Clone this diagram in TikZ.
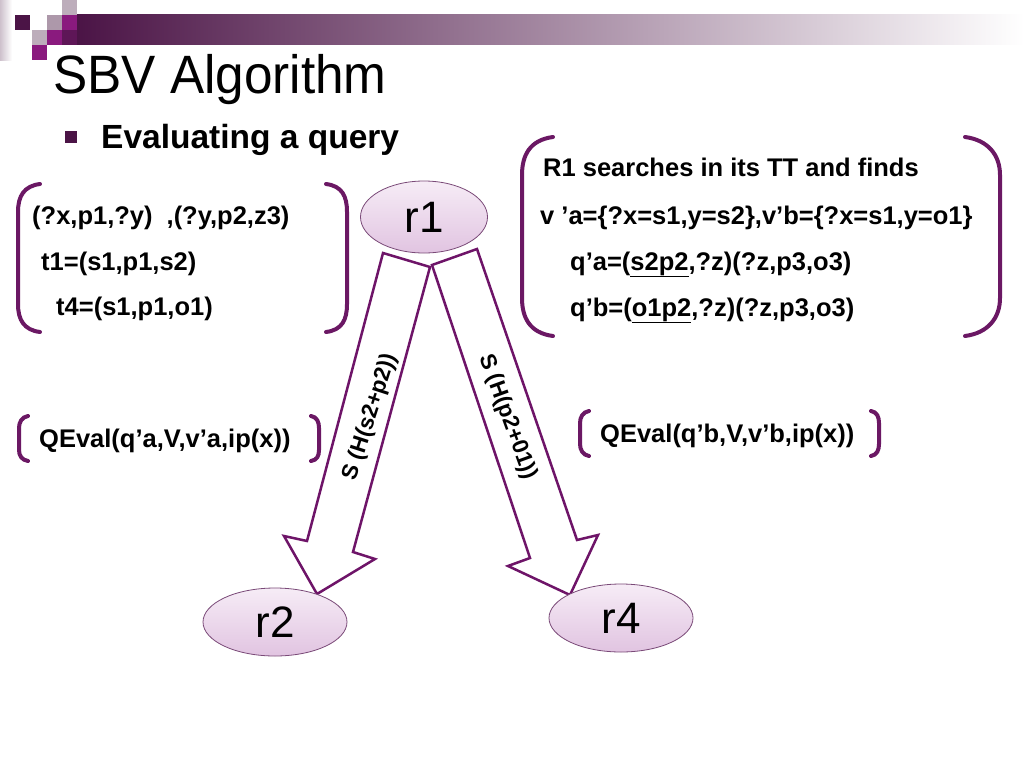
\documentclass[tikz,border=0pt]{standalone}
\usepackage{fontspec}
\setmainfont{Liberation Sans}
\newfontfamily\titlefont[FakeStretch=0.95]{Liberation Sans}
\usetikzlibrary{shapes.geometric}
\definecolor{dpurple}{HTML}{4B1446}
\definecolor{magentatwo}{HTML}{8A1A7E}
\definecolor{mauve}{HTML}{AD98AA}
\definecolor{bracketc}{HTML}{6B1864}
\definecolor{arrowc}{HTML}{6E1468}
\definecolor{elltop}{HTML}{F6ECF6}
\definecolor{ellbot}{HTML}{E1C4E1}
\definecolor{ellborder}{HTML}{7A4A78}
\tikzset{
  body/.style={font=\fontsize{25.5}{30}\selectfont\bfseries, anchor=base west, inner sep=0pt},
  peer/.style={ellipse, draw=ellborder, line width=0.8pt, top color=elltop, bottom color=ellbot,
    inner sep=0pt, minimum width=144pt, minimum height=68pt, font=\fontsize{44}{50}\selectfont},
  brk/.style={draw=bracketc, line width=4pt, line cap=round},
  blockarrow/.style={draw=arrowc, line width=2.5pt, fill=white, line join=miter},
  arrowlabel/.style={font=\fontsize{22.5}{28}\selectfont\bfseries, inner sep=0pt},
}
\begin{document}
\begin{tikzpicture}[x=1pt,y=-1pt]
\useasboundingbox (0,0) rectangle (1024,768);
\fill[white] (0,0) rectangle (1024,768);
% header decoration
\shade[left color=mauve!60, right color=white] (0,0) rectangle (12,60);
\shade[left color=dpurple, right color=white] (77,15) rectangle (1024,45);
\fill[dpurple] (15,15) rectangle (30,30);
\fill[mauve] (47,15) rectangle (62,30);
\fill[magentatwo] (62,15) rectangle (77,30);
\fill[mauve!80] (62,0) rectangle (77,15);
\fill[mauve!80] (32,30) rectangle (47,45);
\fill[magentatwo] (47,30) rectangle (62,45);
\fill[dpurple!70!magentatwo] (62,30) rectangle (77,45);
\fill[magentatwo] (32,45) rectangle (47,60);
% title
\node[anchor=base west, inner sep=0pt, font=\titlefont\fontsize{54}{60}\selectfont] (title) at (53,93) {SBV Algorithm};
\fill[dpurple] (65,131) rectangle (77,143);
\node[anchor=base west, inner sep=0pt, font=\fontsize{33.5}{38}\selectfont\bfseries] (sub) at (101,148) {Evaluating a query};
% left box
\node[body] (l1) at (32,224) {(?x,p1,?y)\hspace{0.55em},(?y,p2,z3)};
\node[body] (l2) at (41,270) {t1=(s1,p1,s2)};
\node[body] (l3) at (56,315) {t4=(s1,p1,o1)};
\draw[brk] (40,184) .. controls (24,186) and (18,196) .. (18,212) -- (18,304) .. controls (18,320) and (24,330) .. (40,332);
\draw[brk] (326,184) .. controls (342,186) and (347,196) .. (347,212) -- (347,304) .. controls (347,320) and (342,330) .. (326,332);
% right box
\node[body] (ra) at (543,176) {R1 searches in its TT and finds};
\node[body] (rb) at (540,224) {v ’a=\{?x=s1,y=s2\},v’b=\{?x=s1,y=o1\}};
\node[body] (rc) at (570,270) {q’a=(\underline{s2p2},?z)(?z,p3,o3)};
\node[body] (rd) at (570,316) {q’b=(\underline{o1p2},?z)(?z,p3,o3)};
\draw[brk] (553,137) .. controls (530,140) and (522,155) .. (522,175) -- (522,298) .. controls (522,318) and (530,333) .. (553,336);
\draw[brk] (965,137) .. controls (988,140) and (1000,155) .. (1000,175) -- (1000,298) .. controls (1000,318) and (988,333) .. (965,336);
% QEval boxes
\node[body] (qa) at (39,447) {QEval(q’a,V,v’a,ip(x))};
\draw[brk] (28,416) .. controls (22,417) and (19,422) .. (19,428) -- (19,450) .. controls (19,456) and (22,460) .. (28,461);
\draw[brk] (311,416) .. controls (317,417) and (319,422) .. (319,428) -- (319,450) .. controls (319,456) and (317,460) .. (311,461);
\node[body] (qb) at (600,442) {QEval(q’b,V,v’b,ip(x))};
\draw[brk] (589,411) .. controls (583,412) and (580,417) .. (580,423) -- (580,444) .. controls (580,450) and (583,455) .. (589,456);
\draw[brk] (871,411) .. controls (877,412) and (879,417) .. (879,423) -- (879,444) .. controls (879,450) and (877,455) .. (871,456);
% block arrows
\coordinate (la1) at (383,253);
\coordinate (la2) at (430,267);
\coordinate (la3) at (353,552);
\coordinate (la4) at (375,559);
\coordinate (la5) at (317,594);
\coordinate (la6) at (284,536);
\coordinate (la7) at (307,541);
\draw[blockarrow] (la1) -- (la2) -- (la3) -- (la4) -- (la5) -- (la6) -- (la7) -- cycle;
\coordinate (ra1) at (432,265);
\coordinate (ra2) at (477,249);
\coordinate (ra3) at (577,540);
\coordinate (ra4) at (598,535);
\coordinate (ra5) at (570,595);
\coordinate (ra6) at (508,566);
\coordinate (ra7) at (530,558);
\draw[blockarrow] (ra1) -- (ra2) -- (ra3) -- (ra4) -- (ra5) -- (ra6) -- (ra7) -- cycle;
\node[arrowlabel] (lla) at (370,417) {\rotatebox{72}{S (H(s2+p2))}};
\node[arrowlabel] (llb) at (508,417) {\rotatebox{-70}{S (H(p2+01))}};
% peers
\node[peer, minimum width=127pt, minimum height=72pt] (r1) at (424,217) {r1};
\node[peer] (r2) at (275,622) {r2};
\node[peer] (r4) at (621,618) {r4};
\end{tikzpicture}
\end{document}
